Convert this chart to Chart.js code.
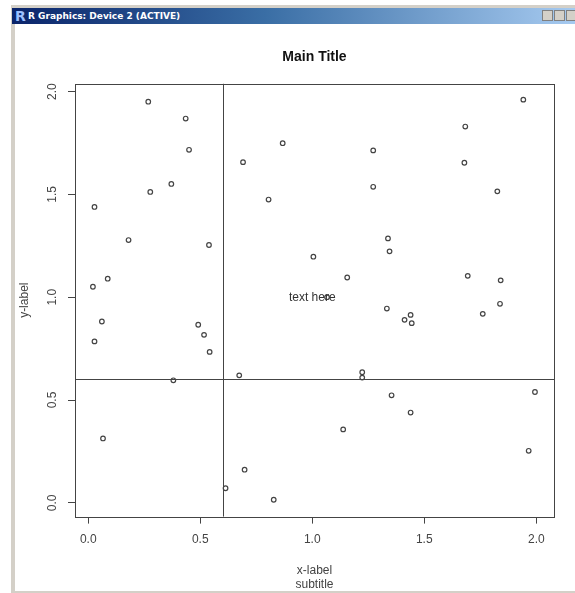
<!DOCTYPE html>
<html>
<head>
<meta charset="utf-8">
<script src="https://cdn.jsdelivr.net/npm/chart.js@4"></script>
<style>
  body { margin: 0; background: #fff; }
  #win { position: relative; width: 575px; height: 593px; overflow: hidden; background: #fff; font-family: "Liberation Sans", Arial, sans-serif; }
  #plot { position: absolute; left: 0; top: 0; }
  .edge { position: absolute; background: #d4d0c8; }
  #bar { position: absolute; left: 12px; right: 0; top: 8px; height: 16px;
         background: linear-gradient(to right, #0a246a 0%, #3a6ea5 45%, #a6caf0 100%); }
  #bar .logo { position: absolute; left: 3px; top: 0; color: #9cc0ff; font: bold 14px "DejaVu Sans", sans-serif; line-height: 16px; }
  #bar .cap { position: absolute; left: 16px; top: 0; color: #fff; font: bold 9px "DejaVu Sans", sans-serif; line-height: 16px; }
  .btn { position: absolute; top: 2px; width: 11px; height: 11px; background: #d4d0c8; border: 1px solid #808080; box-sizing: border-box; }
</style>
</head>
<body>
<div id="win">
  <canvas id="plot" width="575" height="593"></canvas>
  <div class="edge" style="left:11px;right:0;top:5px;height:3px"></div>
  <div class="edge" style="left:11px;width:4px;top:5px;bottom:1px"></div>
  <div class="edge" style="left:11px;right:0;bottom:0;height:2px"></div>
  <div id="bar">
    <span class="logo">R</span>
    <span class="cap">R Graphics: Device 2 (ACTIVE)</span>
    <div class="btn" style="right:22px"></div>
    <div class="btn" style="right:10px"></div>
    <div class="btn" style="right:-2px"></div>
  </div>
</div>
<script>
// points
const xValues = [0.268, 0.435, 0.450, 0.371, 0.277, 0.028, 0.180, 0.539, 0.021, 0.087,
                 0.691, 0.805, 0.868, 1.942, 1.683, 1.272, 1.679, 1.272, 1.826, 1.338,
                 1.345, 1.005, 1.156, 1.694, 1.841, 1.838, 1.333, 0.061, 0.028, 0.491,
                 0.517, 0.542, 0.380, 0.674, 0.066, 0.698, 0.613, 0.828, 1.439, 1.412,
                 1.444, 1.761, 1.223, 1.223, 1.354, 1.439, 1.138, 1.994, 1.966, 1.066];
const yValues = [1.951, 1.869, 1.717, 1.551, 1.512, 1.439, 1.278, 1.254, 1.051, 1.090,
                 1.657, 1.475, 1.749, 1.961, 1.830, 1.714, 1.654, 1.537, 1.515, 1.286,
                 1.223, 1.197, 1.096, 1.104, 1.082, 0.968, 0.945, 0.882, 0.785, 0.866,
                 0.817, 0.734, 0.596, 0.620, 0.313, 0.161, 0.071, 0.015, 0.914, 0.890,
                 0.874, 0.919, 0.635, 0.609, 0.523, 0.439, 0.357, 0.539, 0.253, 1.000];

const xTicks = [0, 0.5, 1.0, 1.5, 2.0];
const yTicks = [0, 0.5, 1.0, 1.5, 2.0];
const refV = 0.6;
const refH = 0.6;
const noteText = 'text here';
const noteAt = [1.0, 1.0];

const ink = '#444';
const font = '"Liberation Sans", Arial, sans-serif';

const points = xValues.map((x, i) => ({ x: x, y: yValues[i] }));

// box, reference lines, rotated y tick labels and the note
const decor = {
  id: 'decor',
  afterDatasetsDraw(chart) {
    const { ctx, chartArea: a, scales } = chart;
    const xs = scales.x, ys = scales.y;
    ctx.save();
    ctx.strokeStyle = ink;
    ctx.lineWidth = 1;
    ctx.strokeRect(Math.round(a.left) + 0.5, Math.round(a.top) + 0.5,
      Math.round(a.right - a.left), Math.round(a.bottom - a.top));

    const vx = Math.round(xs.getPixelForValue(refV)) + 0.5;
    const hy = Math.round(ys.getPixelForValue(refH)) + 0.5;
    ctx.beginPath();
    ctx.moveTo(vx, a.top); ctx.lineTo(vx, a.bottom);
    ctx.moveTo(a.left, hy); ctx.lineTo(a.right, hy);
    ctx.stroke();

    ctx.fillStyle = ink;
    ctx.font = '12px ' + font;
    ctx.textAlign = 'center';
    ctx.textBaseline = 'middle';
    for (const v of yTicks) {
      ctx.save();
      ctx.translate(53, ys.getPixelForValue(v));
      ctx.rotate(-Math.PI / 2);
      ctx.fillText(v.toFixed(1), 0, 0);
      ctx.restore();
    }
    ctx.fillStyle = '#333';
    ctx.fillText(noteText, xs.getPixelForValue(noteAt[0]), ys.getPixelForValue(noteAt[1]));
    ctx.restore();
  }
};

new Chart(document.getElementById('plot'), {
  type: 'scatter',
  data: {
    datasets: [{
      data: points,
      pointStyle: 'circle',
      pointRadius: 2.3,
      pointBorderWidth: 1.2,
      pointBorderColor: '#444',
      pointBackgroundColor: '#fff',
    }]
  },
  options: {
    responsive: false,
    devicePixelRatio: 1,
    animation: false,
    layout: { padding: { left: 0, right: 21, top: 0, bottom: 0 } },
    plugins: {
      legend: { display: false },
      tooltip: { enabled: false },
      title: {
        display: true,
        fullSize: false,
        text: 'Main Title',
        color: '#111',
        font: { family: font, size: 14, weight: 'bold', lineHeight: 1.2 },
        padding: { top: 49, bottom: 18 },
      },
      subtitle: {
        display: true,
        fullSize: false,
        position: 'bottom',
        text: 'subtitle',
        color: ink,
        font: { family: font, size: 12, lineHeight: 1.2 },
        padding: { top: 0, bottom: 1 },
      },
    },
    scales: {
      x: {
        type: 'linear',
        min: -0.059,
        max: 2.079,
        afterBuildTicks: s => { s.ticks = xTicks.map(v => ({ value: v })); },
        afterFit: s => { s.height = 61; },
        border: { display: false },
        grid: { drawOnChartArea: false, drawTicks: true, tickLength: 7, color: ink },
        ticks: {
          color: ink,
          font: { family: font, size: 12 },
          padding: 9,
          callback: v => Number(v).toFixed(1),
        },
        title: {
          display: true,
          text: 'x-label',
          color: ink,
          font: { family: font, size: 12, lineHeight: 1.2 },
          padding: { top: 0, bottom: 0 },
        },
      },
      y: {
        type: 'linear',
        min: -0.067,
        max: 2.038,
        afterBuildTicks: s => { s.ticks = yTicks.map(v => ({ value: v })); },
        afterFit: s => { s.width = 75; },
        border: { display: false },
        grid: { drawOnChartArea: false, drawTicks: true, tickLength: 7, color: ink },
        ticks: { display: false },
        title: {
          display: true,
          text: 'y-label',
          color: ink,
          font: { family: font, size: 12, lineHeight: 1.2 },
          padding: { top: 17, bottom: 0 },
        },
      },
    },
  },
  plugins: [decor],
});
</script>
</body>
</html>
